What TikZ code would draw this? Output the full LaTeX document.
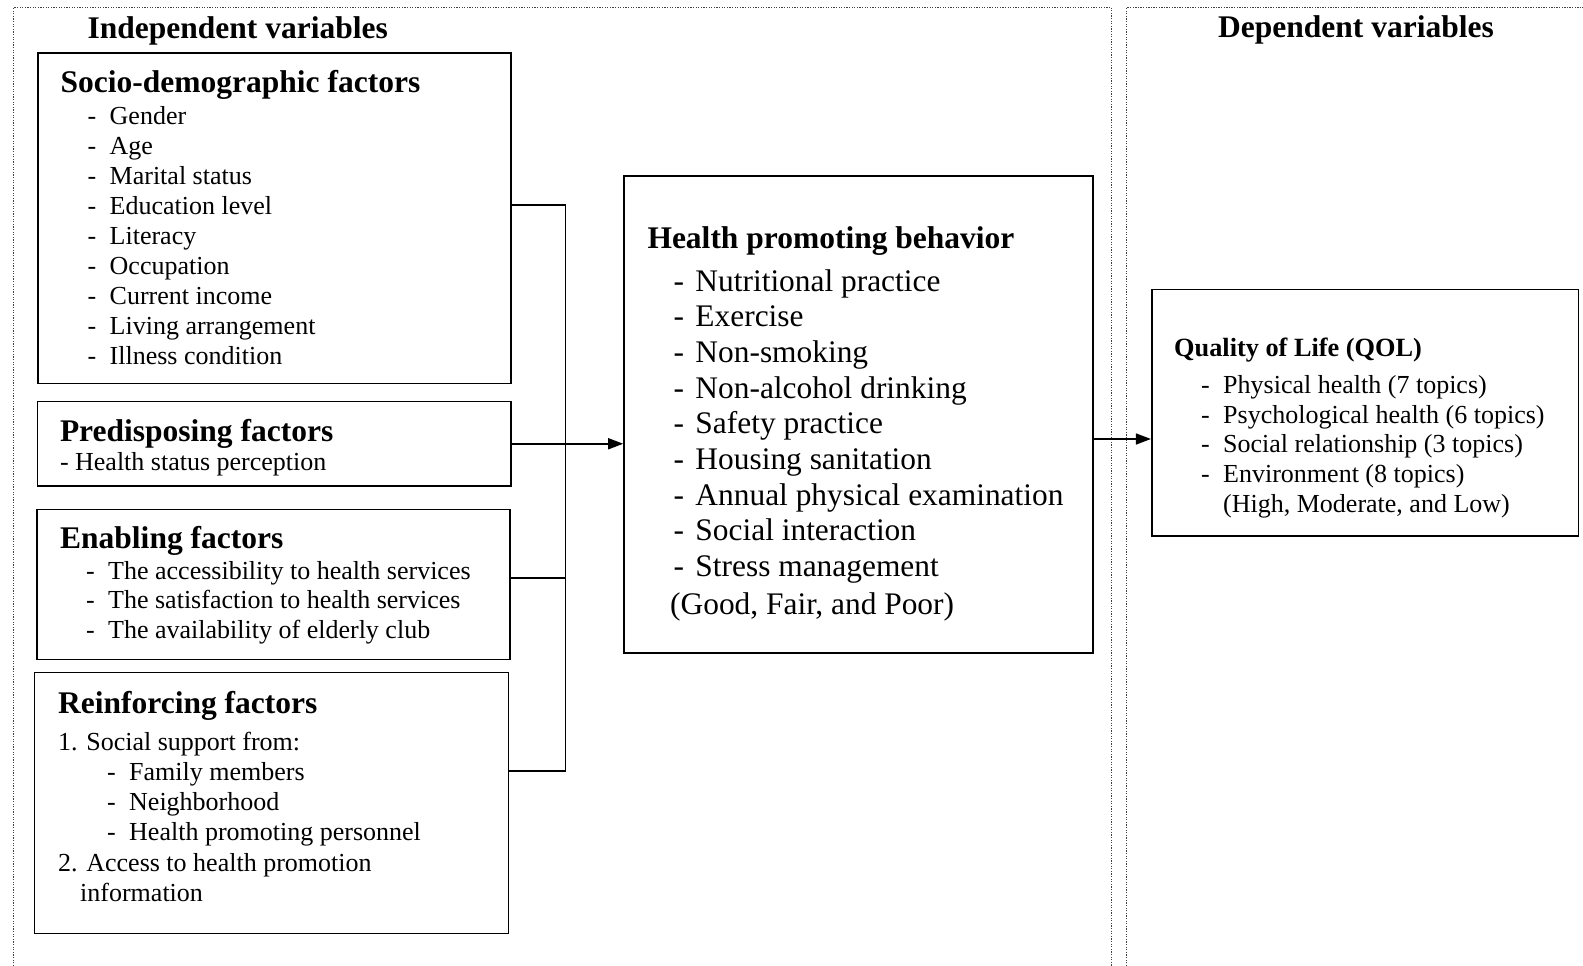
\documentclass[tikz,border=0pt]{standalone}
\usepackage{fontspec}
\setmainfont{Liberation Serif}
\usetikzlibrary{arrows.meta}

\newcommand\hd[1]{{\fontsize{31.5}{35}\selectfont\bfseries #1}}
\newcommand\dsh[1]{\hspace*{#1pt}\makebox[22pt][l]{-}}

\begin{document}
\begin{tikzpicture}[x=1pt, y=-1pt,
  box/.style={draw, line width=1.6pt, inner sep=0pt},
  txt/.style={anchor=base west, inner sep=0pt, font=\fontsize{26}{30}\selectfont},
  frame/.style={line width=1.4pt, black!75, dash pattern=on 1.3pt off 1.3pt},
  conn/.style={line width=1.6pt},
  arr/.style={conn, -{Triangle[length=15pt, width=11pt]}}]

\useasboundingbox (0,0) rectangle (1583,966);

% Frames
\draw[frame] (13.5,966) -- (13.5,7.5) -- (1111.5,7.5) -- (1111.5,966);
\draw[frame] (1126.5,966) -- (1126.5,7.5) -- (1583,7.5);

% Titles
\node[txt] (indep) at (87.5,38.3) {\hd{Independent variables}};
\node[txt] (dep) at (1218,37.5) {\hd{Dependent variables}};

% Boxes
\node[box, minimum width=473.4, minimum height=330.6] (socio) at (274.5,218.3) {};
\node[box, minimum width=473.2, minimum height=84.5] (predis) at (274.1,443.75) {};
\node[box, minimum width=473.3, minimum height=150] (enab) at (273.35,584.3) {};
\node[box, minimum width=474, minimum height=261] (reinf) at (271.5,802.8) {};
\node[box, minimum width=469, minimum height=476.7] (hpb) at (858.5,414.35) {};
\node[box, minimum width=426.6, minimum height=246.4] (qol) at (1365,412.5) {};

% Box texts
\node[txt] (sociotxt) at (60.5,92.5) {\begin{tabular}[t]{@{}l@{}}
  \hd{Socio-demographic factors}\\[1.7pt]
  \dsh{27}Gender\\ \dsh{27}Age\\ \dsh{27}Marital status\\
  \dsh{27}Education level\\ \dsh{27}Literacy\\ \dsh{27}Occupation\\
  \dsh{27}Current income\\ \dsh{27}Living arrangement\\
  \dsh{27}Illness condition
\end{tabular}};
\node[txt] (predistxt) at (59.8,441) {\begin{tabular}[t]{@{}l@{}}
  \hd{Predisposing factors}\\[-1pt]
  - Health status perception
\end{tabular}};
\node[txt, font=\fontsize{26}{29.7}\selectfont] (enabtxt) at (60,548.3) {\begin{tabular}[t]{@{}l@{}}
  \hd{Enabling factors}\\[1pt]
  \dsh{26}The accessibility to health services\\
  \dsh{26}The satisfaction to health services\\
  \dsh{26}The availability of elderly club
\end{tabular}};
\node[txt, font=\fontsize{26}{30.3}\selectfont] (reinftxt) at (58,713.3) {\begin{tabular}[t]{@{}l@{}}
  \hd{Reinforcing factors}\\[6.4pt]
  1. Social support from:\\
  \dsh{49}Family members\\ \dsh{49}Neighborhood\\
  \dsh{49}Health promoting personnel\\
  2. Access to health promotion\\
  \hspace*{22pt}information
\end{tabular}};
\node[txt, font=\fontsize{31.4}{35.7}\selectfont] (hpbtxt) at (647.3,248.3) {\begin{tabular}[t]{@{}l@{}}
  \hd{Health promoting behavior}\\[7pt]
  \dsh{26}Nutritional practice\\ \dsh{26}Exercise\\ \dsh{26}Non-smoking\\
  \dsh{26}Non-alcohol drinking\\ \dsh{26}Safety practice\\
  \dsh{26}Housing sanitation\\ \dsh{26}Annual physical examination\\
  \dsh{26}Social interaction\\ \dsh{26}Stress management\\[2pt]
  \hspace*{22.7pt}(Good, Fair, and Poor)
\end{tabular}};
\node[txt, font=\fontsize{26}{29.7}\selectfont] (qoltxt) at (1174,356) {\begin{tabular}[t]{@{}l@{}}
  {\fontsize{26.3}{30}\selectfont\bfseries Quality of Life (QOL)}\\[7.6pt]
  \dsh{27}Physical health (7 topics)\\
  \dsh{27}Psychological health (6 topics)\\
  \dsh{27}Social relationship (3 topics)\\
  \dsh{27}Environment (8 topics)\\
  \hspace*{49pt}(High, Moderate, and Low)
\end{tabular}};

% Connectors
\coordinate (jsoc) at (565.4,205);
\coordinate (jen) at (565.4,578);
\coordinate (jre) at (565.4,770.7);
\coordinate (jqol) at (1093,439);
\draw[conn] (jsoc -| socio.east) -- (jsoc) -- (jre) -- (jre -| reinf.east);
\draw[conn] (jen -| enab.east) -- (jen);
\draw[arr] (predis.east) -- (predis.east -| hpb.west);
\draw[arr] (hpb.east |- jqol) -- (qol.west |- jqol);

\end{tikzpicture}
\end{document}
